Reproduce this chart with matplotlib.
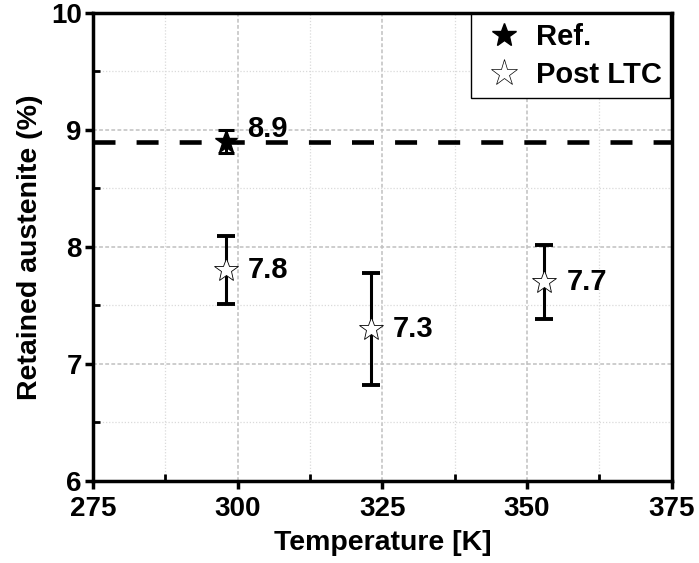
import matplotlib
matplotlib.use("Agg")
import matplotlib.pyplot as plt
from matplotlib.ticker import MultipleLocator
from matplotlib.lines import Line2D

plt.rcParams['font.family'] = ['Liberation Sans', 'DejaVu Sans']
plt.rcParams['font.weight'] = 'bold'

# Data
ref_T = [298]
ref_val = [8.9]
ref_err = [0.1]
post_T = [298, 323, 353]
post_val = [7.8, 7.3, 7.7]
post_err = [0.29, 0.48, 0.32]
ref_line = 8.9
ref_labels = ["8.9"]
post_labels = ["7.8", "7.3", "7.7"]
legend_labels = ["Ref.", "Post LTC"]

fig = plt.figure(figsize=(6.99, 5.63), dpi=100)
ax = fig.add_axes([0.133, 0.146, 0.828, 0.831])

ax.set_xlim(275, 375)
ax.set_ylim(6, 10)
ax.xaxis.set_major_locator(MultipleLocator(25))
ax.xaxis.set_minor_locator(MultipleLocator(12.5))
ax.yaxis.set_major_locator(MultipleLocator(1))
ax.yaxis.set_minor_locator(MultipleLocator(0.5))

ax.grid(which='major', color='#c0c0c0', linestyle=(0, (2.5, 1.5)), linewidth=1.1)
ax.grid(which='minor', color='#dadada', linestyle=(0, (1, 1.5)), linewidth=0.9)
ax.set_axisbelow(True)

ax.axhline(ref_line, color='black', linestyle=(0, (4.8, 4.6)), linewidth=3.3, zorder=2)

ax.errorbar(ref_T, ref_val, yerr=ref_err, fmt='*', color='black', markersize=17,
            ecolor='black', elinewidth=2.2, capsize=6, capthick=2.2, zorder=4)
ax.errorbar(post_T, post_val, yerr=post_err, fmt='none', ecolor='black',
            elinewidth=2.2, capsize=6.5, capthick=2.8, zorder=3)
ax.plot(post_T, post_val, linestyle='none', marker='*', markersize=18,
        markerfacecolor='white', markeredgecolor='black', markeredgewidth=0.6,
        zorder=5)

ax.text(ref_T[0] + 3.6, ref_val[0] + 0.11, ref_labels[0], fontsize=21, fontweight='bold',
        va='center', ha='left')
for t, v, s in zip(post_T, post_val, post_labels):
    ax.text(t + 3.8, v, s, fontsize=21, fontweight='bold', va='center', ha='left')

for sp in ax.spines.values():
    sp.set_linewidth(2.5)

ax.tick_params(which='major', direction='out', length=6, width=2.5, labelsize=20, pad=2)
ax.tick_params(axis='x', which='major', pad=5)
ax.tick_params(which='minor', direction='in', length=5, width=2)
for lab in ax.get_xticklabels() + ax.get_yticklabels():
    lab.set_fontweight('bold')

ax.set_xlabel('Temperature [K]', fontsize=20.5, fontweight='bold', labelpad=6)
ax.set_ylabel('Retained austenite (%)', fontsize=20.5, fontweight='bold', labelpad=6)

handles = [
    Line2D([], [], linestyle='none', marker='*', markersize=18, color='black'),
    Line2D([], [], linestyle='none', marker='*', markersize=20,
           markerfacecolor='white', markeredgecolor='black', markeredgewidth=0.5),
]
leg = ax.legend(handles, legend_labels, loc='upper right', fontsize=21, frameon=True,
                fancybox=False, edgecolor='black', framealpha=1, handletextpad=0.3,
                borderpad=0.3, labelspacing=0.35, handlelength=1.6,
                borderaxespad=0.05)
leg.get_frame().set_linewidth(1.0)
for t in leg.get_texts():
    t.set_fontweight('bold')

fig.savefig('out.png', dpi=100)
